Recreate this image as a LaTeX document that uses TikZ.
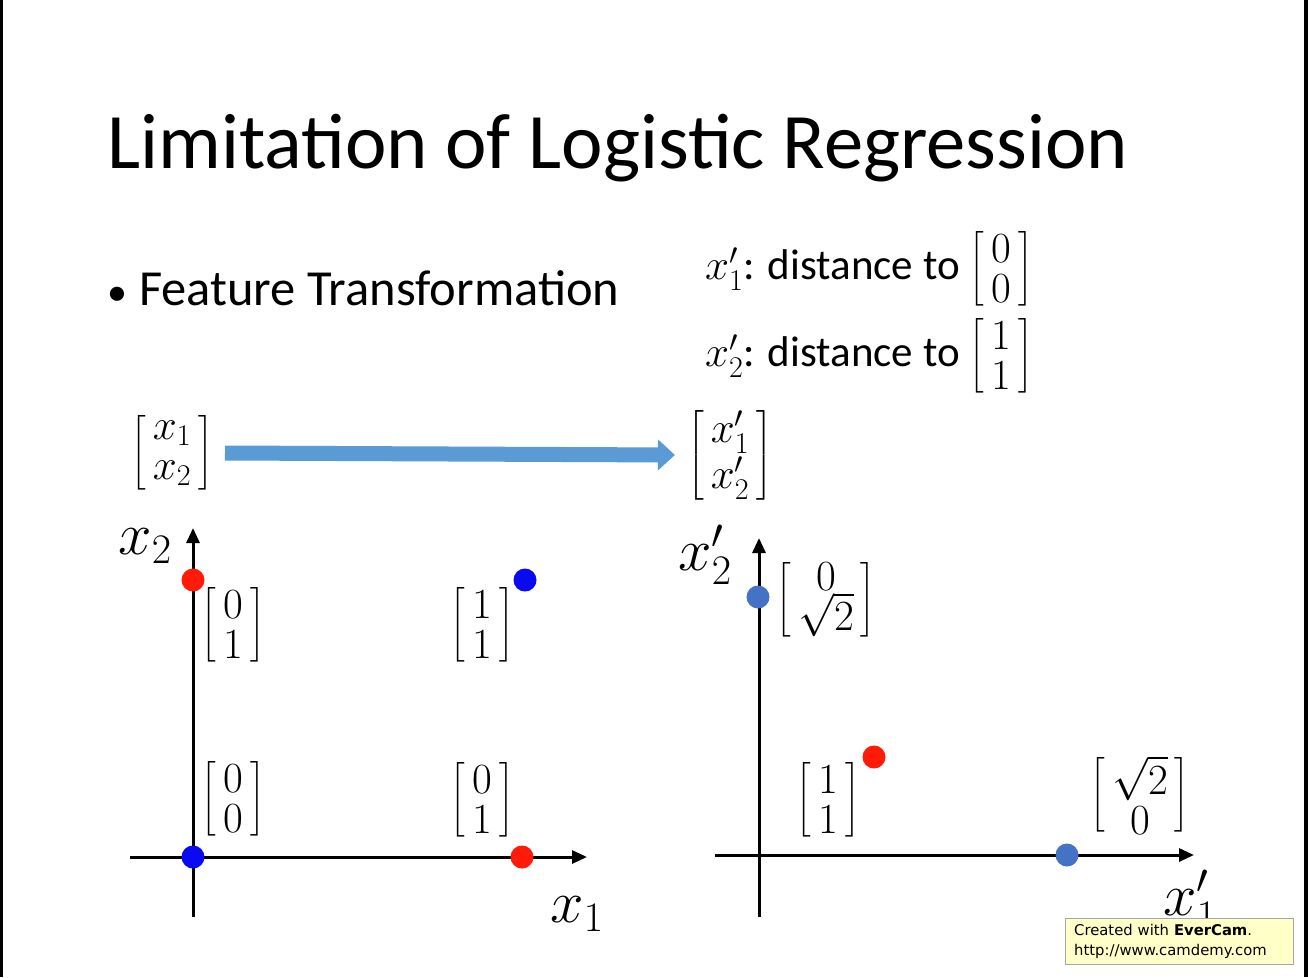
\RequirePackage{fix-cm}
\documentclass[tikz,border=0pt]{standalone}
\usepackage{amsmath}
\usepackage{fontspec}
\setmainfont{Carlito}
\newfontfamily\notefont{DejaVu Sans}
\usetikzlibrary{arrows.meta}

\newcommand{\colvec}[2]{\left[\vcenter{\baselineskip=40pt\lineskip=3pt\lineskiplimit=0pt
    \halign{\hfil\,$##$\,\hfil\cr#1\cr#2\cr}}\right]}
\newcommand{\matfont}{\fontsize{43}{40}\selectfont}

\begin{document}
\begin{tikzpicture}[x=1pt, y=-1pt,
    mat/.style={inner sep=0pt, font=\matfont},
    axlabel/.style={inner sep=0pt, font=\fontsize{60}{70}\selectfont},
    axis/.style={line width=3pt, -{Triangle[length=15pt,width=13pt]}},
    dot/.style={circle, inner sep=0pt, minimum size=23pt, draw=none}]
    \definecolor{dotRed}{HTML}{FF1A0A}
    \definecolor{dotBlue}{HTML}{0A0AF0}
    \definecolor{dotSteel}{HTML}{4472C4}
    \definecolor{arrowBlue}{HTML}{5B9BD5}
    \definecolor{noteFill}{HTML}{FFFFC8}

    % Page frame
    \useasboundingbox (0,0) rectangle (1308,977);
    \fill[white] (0,0) rectangle (1308,977);
    \fill[black] (0,0) rectangle (3,977);
    \fill[black] (1304,0) rectangle (1308,977);

    % Title and bullet
    \node[anchor=base west, inner sep=0pt, font=\fontsize{78.6}{94}\selectfont] (title) at (107,168) {Limitation of Logistic Regression};
    \node[anchor=base west, inner sep=0pt, font=\fontsize{50.5}{60}\selectfont] (bullet) at (107,305) {{\fontsize{40}{40}\selectfont\textbullet}\hspace{12pt}Feature Transformation};

    % Definitions of the new features
    \node[anchor=west, inner sep=0pt, font=\fontsize{43}{40}\selectfont] (def1) at (705,269) {$x_1'$: distance to {\matfont$\colvec{0}{0}$}};
    \node[anchor=west, inner sep=0pt, font=\fontsize{43}{40}\selectfont] (def2) at (705,356) {$x_2'$: distance to {\matfont$\colvec{1}{1}$}};

    % Transformation arrow
    \node[mat] (xin) at (172,453) {$\colvec{x_1}{x_2}$};
    \node[mat] (xout) at (730,455) {$\colvec{x_1'}{x_2'}$};
    \draw[arrowBlue, line width=15pt, -{Triangle[length=17pt,width=30pt]}] ([xshift=12pt]xin.east) -- ([xshift=-12pt]xout.west);

    % Left plot: original space
    \coordinate (O1) at (193,857);
    \coordinate (xend1) at (587,857);
    \coordinate (yend1) at (193,528);
    \draw[axis] (130,857) -- (xend1);
    \draw[axis] (193,917) -- (yend1);
    \node[axlabel] (lx2) at (145,546) {$x_2$};
    \node[axlabel] (lx1) at (577,914) {$x_1$};

    \node[dot, fill=dotRed] (a01) at (193,580) {};
    \node[dot, fill=dotBlue] (a11) at (525,580) {};
    \node[dot, fill=dotBlue] (a00) at (O1) {};
    \node[dot, fill=dotRed] (a10) at (522,857) {};

    \node[mat] (ma01) at (233,625) {$\colvec{0}{1}$};
    \node[mat] (ma11) at (482,625) {$\colvec{1}{1}$};
    \node[mat] (ma00) at (233,799) {$\colvec{0}{0}$};
    \node[mat] (ma10) at (482,800) {$\colvec{0}{1}$};

    % Right plot: transformed space
    \coordinate (xend2) at (1194,855);
    \coordinate (yend2) at (759,538);
    \draw[axis] (715,855) -- (xend2);
    \draw[axis] (759,917) -- (yend2);
    \node[axlabel] (rx2) at (705,555) {$x_2'$};
    \node[axlabel] (rx1) at (1190,900) {$x_1'$};

    \node[dot, fill=dotSteel] (b01) at (758,597) {};
    \node[dot, fill=dotRed] (b11) at (874,757) {};
    \node[dot, fill=dotSteel] (b10) at (1067,855) {};

    \node[mat] (mb01) at (826,600) {$\colvec{0}{\sqrt{2}}$};
    \node[mat] (mb11) at (828,800) {$\colvec{1}{1}$};
    \node[mat] (mb10) at (1140,795) {$\colvec{\sqrt{2}}{0}$};

    % Recorder note
    \node[draw=gray!70, fill=noteFill, anchor=north west, minimum height=46pt, text width=210pt,
          inner xsep=9pt, inner ysep=3pt, align=left, font=\fontsize{14.8}{20}\selectfont\notefont] (note) at (1065,918)
          {Created with \textbf{EverCam}.\\http://www.camdemy.com};
\end{tikzpicture}
\end{document}
